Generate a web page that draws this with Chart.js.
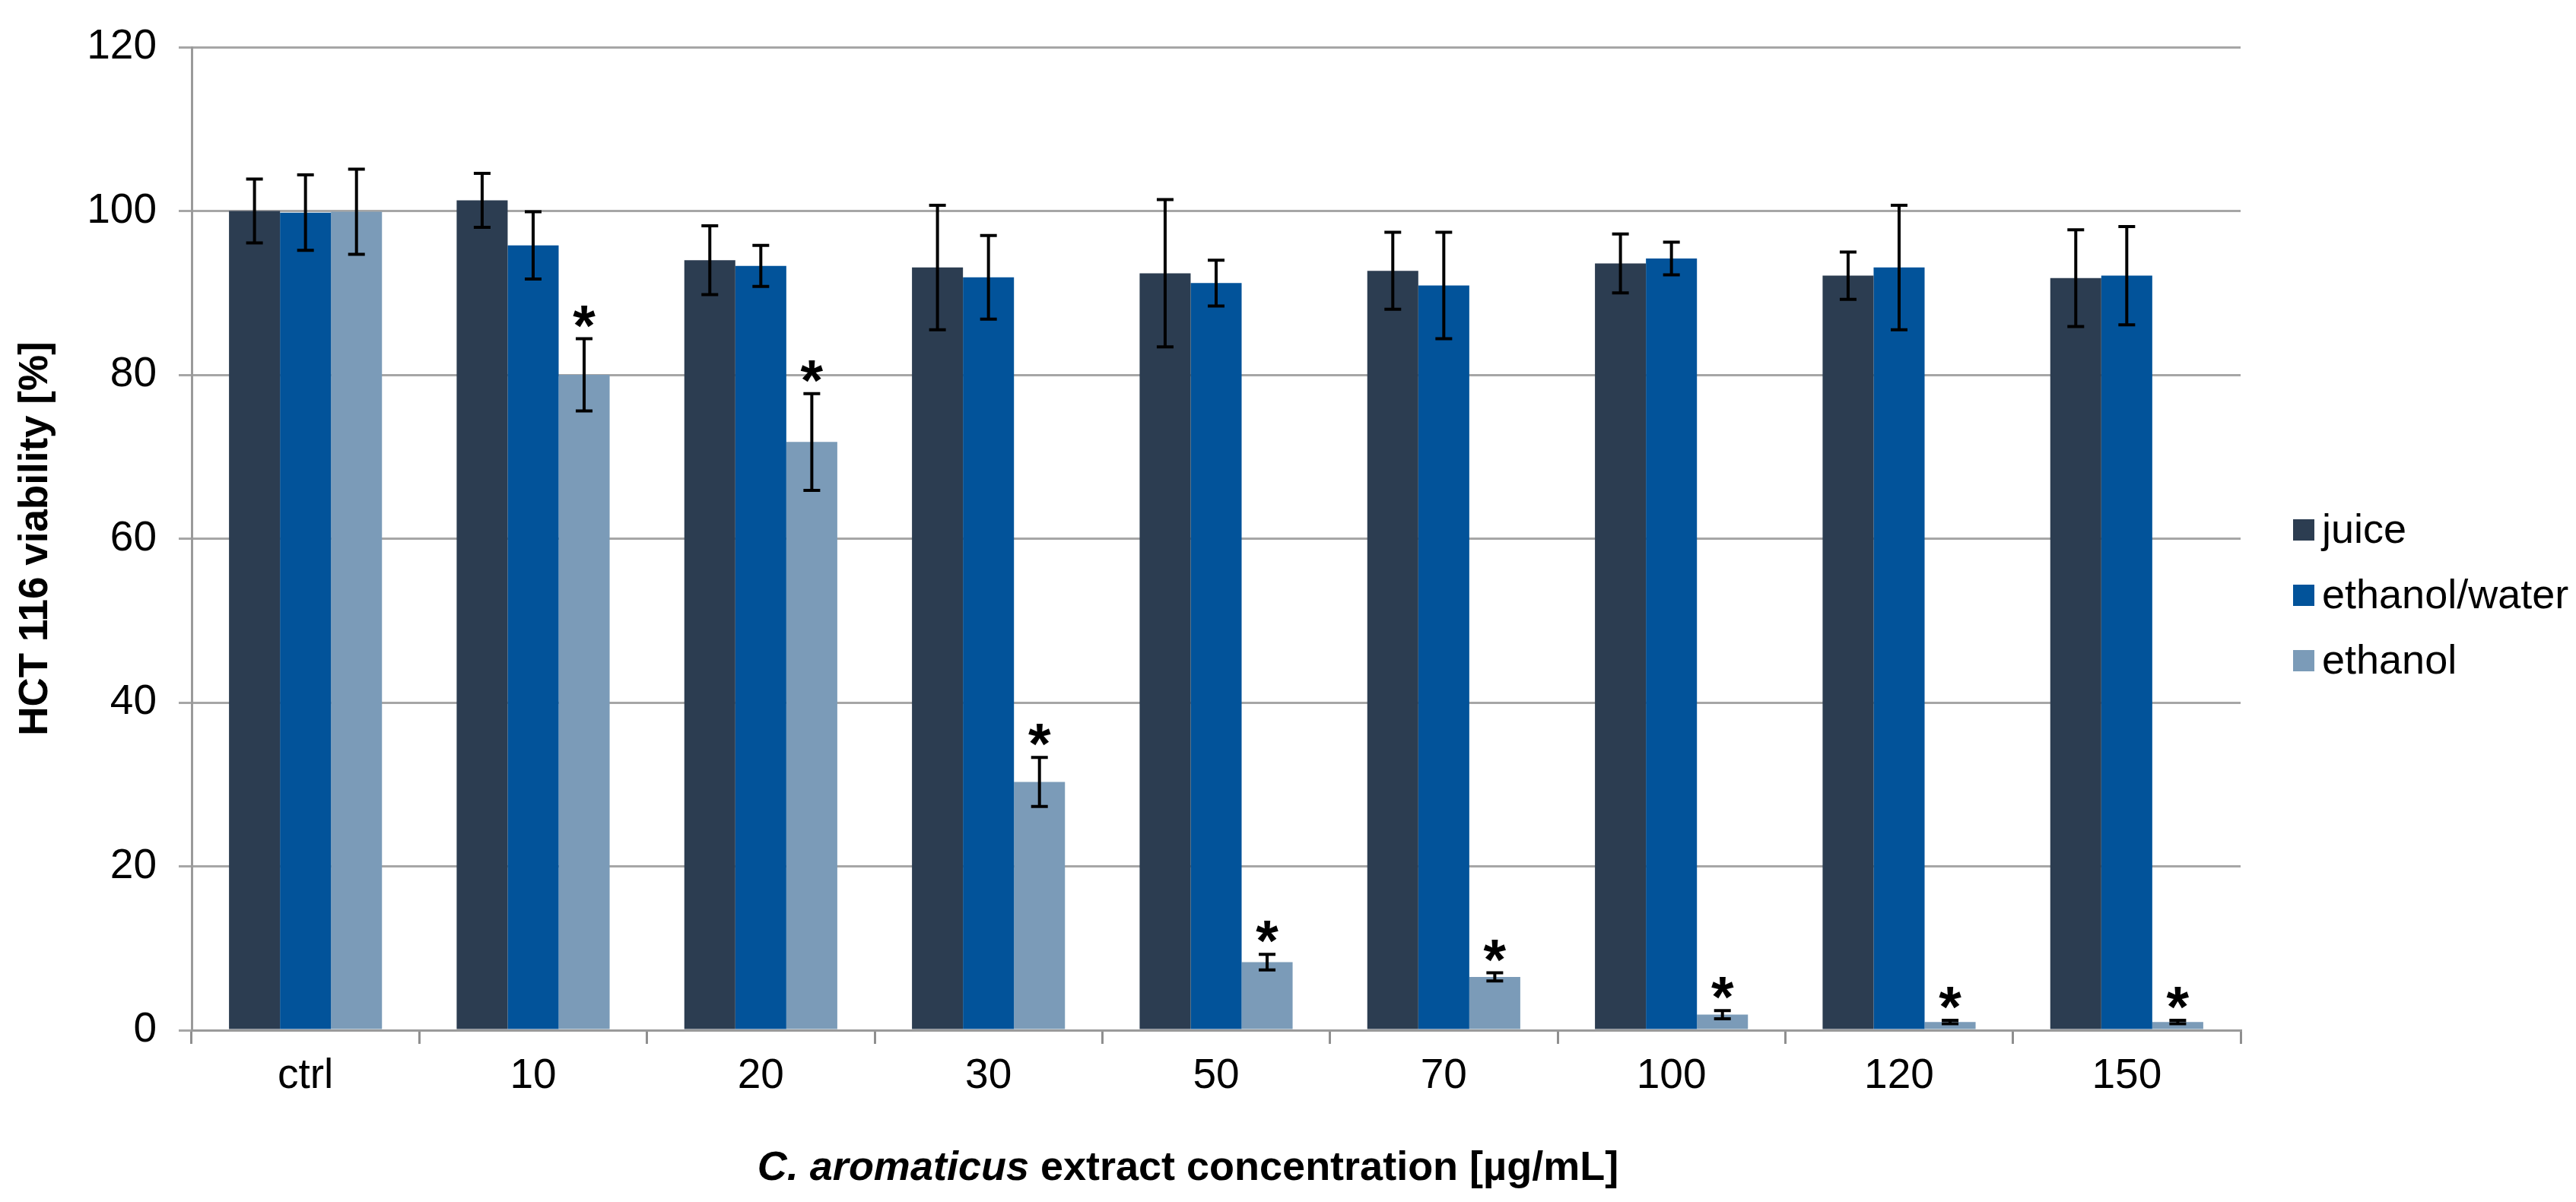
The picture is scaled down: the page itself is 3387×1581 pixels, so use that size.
<!DOCTYPE html>
<html>
<head>
<meta charset="utf-8">
<title>HCT 116 viability</title>
<script src="https://cdn.jsdelivr.net/npm/chart.js@4.4.1/dist/chart.umd.min.js"></script>
<style>
  html, body { margin: 0; padding: 0; background: #fff; }
  #wrap { width: 3387px; height: 1581px; position: relative; }
</style>
</head>
<body>
<div id="wrap"><canvas id="myChart"></canvas></div>
<script>
// categories (extract concentration, µg/mL)
const labels = ['ctrl', '10', '20', '30', '50', '70', '100', '120', '150'];

// mean viability [%] and SD per extract
const juice      = [100.0, 101.3, 94.0, 93.1, 92.4, 92.7, 93.6, 92.1, 91.8];
const juiceSd    = [3.9, 3.3, 4.2, 7.6, 9.0, 4.7, 3.6, 2.9, 5.9];
const water      = [99.8, 95.8, 93.3, 91.9, 91.2, 90.9, 94.2, 93.1, 92.1];
const waterSd    = [4.6, 4.1, 2.5, 5.1, 2.8, 6.5, 2.0, 7.6, 6.0];
const ethanol    = [99.9, 80.0, 71.8, 30.3, 8.3, 6.5, 1.9, 1.0, 1.0];
const ethanolSd  = [5.2, 4.4, 5.9, 3.0, 0.95, 0.5, 0.5, 0.2, 0.2];
const ethanolSig = [false, true, true, true, true, true, true, true, true];

const yTicks = [0, 20, 40, 60, 80, 100, 120];

const FONT = '"Liberation Sans", Arial, sans-serif';
const sdLists = [juiceSd, waterSd, ethanolSd];
const sigLists = [null, null, ethanolSig];

// error bars + significance stars
const errorBars = {
  id: 'errorBars',
  afterDatasetsDraw(chart) {
    const ctx = chart.ctx;
    const y = chart.scales.y;
    ctx.save();
    chart.data.datasets.forEach((ds, i) => {
      const meta = chart.getDatasetMeta(i);
      meta.data.forEach((bar, j) => {
        const v = ds.data[j], sd = sdLists[i][j];
        const top = y.getPixelForValue(v + sd);
        const bot = y.getPixelForValue(v - sd);
        ctx.strokeStyle = '#000';
        ctx.lineWidth = 4;
        ctx.beginPath();
        ctx.moveTo(bar.x, top); ctx.lineTo(bar.x, bot);
        ctx.moveTo(bar.x - 11, top); ctx.lineTo(bar.x + 11, top);
        ctx.moveTo(bar.x - 11, bot); ctx.lineTo(bar.x + 11, bot);
        ctx.stroke();
        if (sigLists[i] && sigLists[i][j]) {
          ctx.fillStyle = '#000';
          ctx.font = 'bold 76px ' + FONT;
          ctx.textAlign = 'center';
          ctx.textBaseline = 'alphabetic';
          ctx.fillText('*', bar.x, top + 8);
        }
      });
    });
    ctx.restore();
  }
};

// x title with italic species name, and the legend on the right
const extras = {
  id: 'extras',
  afterDraw(chart) {
    const ctx = chart.ctx;
    ctx.save();
    ctx.fillStyle = '#000';
    ctx.textBaseline = 'alphabetic';
    const partA = 'C. aromaticus';
    const partB = ' extract concentration [µg/mL]';
    ctx.font = 'italic bold 54px ' + FONT;
    const wA = ctx.measureText(partA).width;
    ctx.font = 'bold 54px ' + FONT;
    const wB = ctx.measureText(partB).width;
    let x = 1562 - (wA + wB) / 2;
    ctx.textAlign = 'left';
    ctx.font = 'italic bold 54px ' + FONT;
    ctx.fillText(partA, x, 1552);
    ctx.font = 'bold 54px ' + FONT;
    ctx.fillText(partB, x + wA, 1552);

    // legend
    ctx.font = '54px ' + FONT;
    ctx.textBaseline = 'middle';
    chart.data.datasets.forEach((ds, i) => {
      const cy = 697 + i * 86;
      ctx.fillStyle = ds.backgroundColor;
      ctx.fillRect(3015, cy - 14, 28, 28);
      ctx.fillStyle = '#000';
      ctx.fillText(ds.label, 3053, cy + 2);
    });
    ctx.restore();
  }
};

new Chart(document.getElementById('myChart'), {
  type: 'bar',
  data: {
    labels: labels,
    datasets: [
      { label: 'juice', data: juice, backgroundColor: '#2c3d51' },
      { label: 'ethanol/water', data: water, backgroundColor: '#02539a' },
      { label: 'ethanol', data: ethanol, backgroundColor: '#7b9bb8' }
    ]
  },
  options: {
    responsive: true,
    maintainAspectRatio: false,
    animation: false,
    layout: { padding: { top: 39, right: 441, bottom: 0, left: 0 } },
    datasets: { bar: { categoryPercentage: 0.672, barPercentage: 1.0, borderWidth: 0 } },
    plugins: {
      legend: { display: false },
      tooltip: { enabled: false }
    },
    scales: {
      x: {
        afterFit(scale) { scale.height = 226; },
        grid: {
          drawOnChartArea: false,
          drawTicks: true,
          tickLength: 18,
          color: '#8f8f8f',
          lineWidth: 3,
          offset: true
        },
        border: { display: true, color: '#9a9a9a', width: 3 },
        ticks: {
          color: '#000',
          font: { family: FONT, size: 55 },
          padding: 10,
          autoSkip: false,
          maxRotation: 0
        }
      },
      y: {
        min: 0,
        max: 120,
        afterFit(scale) { scale.width = 252; },
        afterBuildTicks(scale) { scale.ticks = yTicks.map(v => ({ value: v })); },
        grid: {
          color: '#a6a6a6',
          lineWidth: 3,
          tickLength: 17
        },
        border: { display: true, color: '#9a9a9a', width: 3 },
        ticks: {
          color: '#000',
          font: { family: FONT, size: 55 },
          padding: 29
        },
        title: {
          display: true,
          text: 'HCT 116 viability [%]',
          color: '#000',
          font: { family: FONT, size: 53, weight: 'bold' },
          padding: { top: 16, bottom: 0 }
        }
      }
    }
  },
  plugins: [errorBars, extras]
});
</script>
</body>
</html>
